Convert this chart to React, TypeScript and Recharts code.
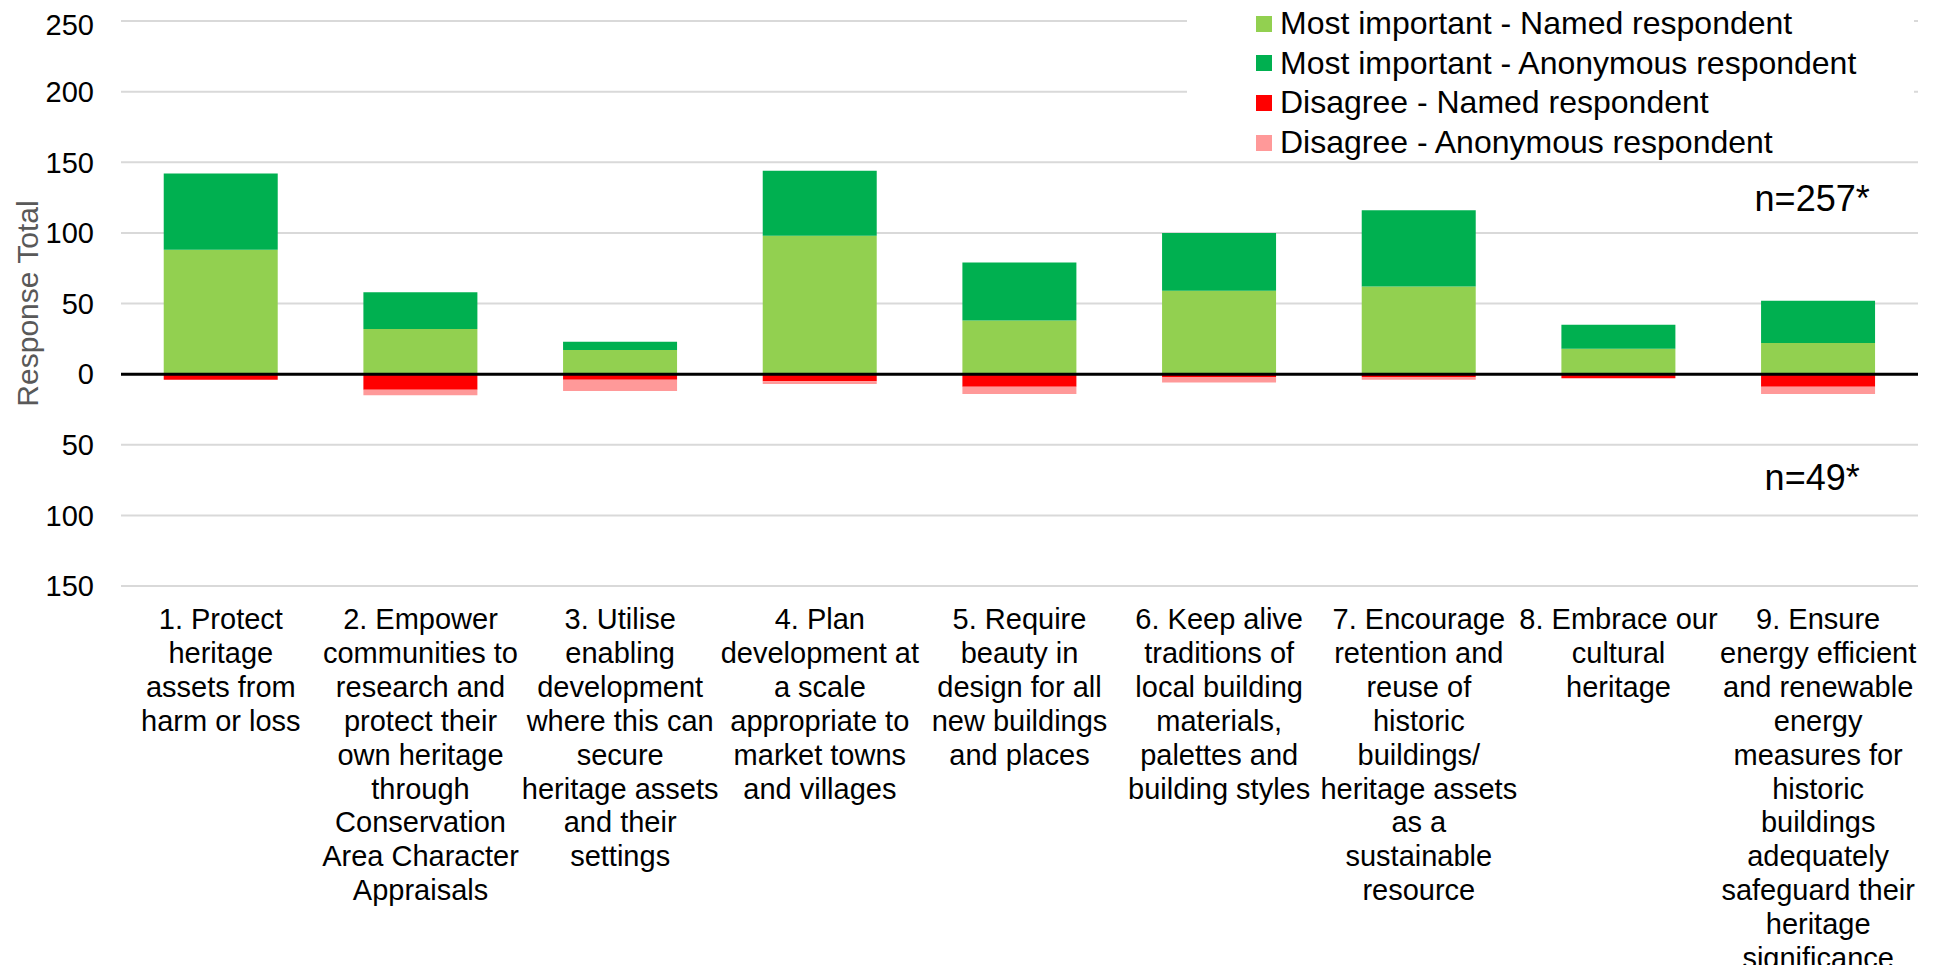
import React from "react";
import {
  BarChart,
  Bar,
  XAxis,
  YAxis,
  CartesianGrid,
  Legend,
  ReferenceLine,
  ReferenceDot,
} from "recharts";

// category labels, already broken into lines like the original
const categories = [
  "1. Protect\nheritage\nassets from\nharm or loss",
  "2. Empower\ncommunities to\nresearch and\nprotect their\nown heritage\nthrough\nConservation\nArea Character\nAppraisals",
  "3. Utilise\nenabling\ndevelopment\nwhere this can\nsecure\nheritage assets\nand their\nsettings",
  "4. Plan\ndevelopment at\na scale\nappropriate to\nmarket towns\nand villages",
  "5. Require\nbeauty in\ndesign for all\nnew buildings\nand places",
  "6. Keep alive\ntraditions of\nlocal building\nmaterials,\npalettes and\nbuilding styles",
  "7. Encourage\nretention and\nreuse of\nhistoric\nbuildings/\nheritage assets\nas a\nsustainable\nresource",
  "8. Embrace our\ncultural\nheritage",
  "9. Ensure\nenergy efficient\nand renewable\nenergy\nmeasures for\nhistoric\nbuildings\nadequately\nsafeguard their\nheritage\nsignificance",
];

const importantNamed = [88, 32, 17, 98, 38, 59, 62, 18, 22];
const importantAnon = [54, 26, 6, 46, 41, 41, 54, 17, 30];
const disagreeNamed = [4, 11, 4, 5, 9, 2, 2, 3, 9];
const disagreeAnon = [0, 4, 8, 2, 5, 4, 2, 0, 5];

const yTicks = [-150, -100, -50, 0, 50, 100, 150, 200, 250];

const FONT = "'Liberation Sans', Arial, sans-serif";

const series = [
  { key: "impNamed", name: "Most important - Named respondent", color: "#92D050" },
  { key: "impAnon", name: "Most important - Anonymous respondent", color: "#00B050" },
  { key: "disNamed", name: "Disagree - Named respondent", color: "#FF0000" },
  { key: "disAnon", name: "Disagree - Anonymous respondent", color: "#FF9999" },
];

const data = categories.map((cat, i) => ({
  cat,
  impNamed: importantNamed[i],
  impAnon: importantAnon[i],
  // disagree counts go below the axis
  disNamed: -disagreeNamed[i],
  disAnon: -disagreeAnon[i],
}));

const CategoryTick = (props: any) => {
  const { x, y, payload } = props;
  const lines = String(payload.value).split("\n");
  return (
    <text x={x} y={y + 35} textAnchor="middle" fill="#000" fontSize={29} fontFamily={FONT}>
      {lines.map((line, i) => (
        <tspan key={i} x={x} dy={i === 0 ? 0 : 33.9}>
          {line}
        </tspan>
      ))}
    </text>
  );
};

const LegendBox = () => (
  <div
    style={{
      background: "#fff",
      width: 727,
      height: 150,
      fontFamily: FONT,
      fontSize: 32,
      color: "#000",
      boxSizing: "border-box",
    }}
  >
    {series.map((s, i) => (
      <div
        key={s.key}
        style={{
          display: "flex",
          alignItems: "center",
          height: 39.6,
          marginTop: i === 0 ? -4 : 0,
        }}
      >
        <span
          style={{
            display: "inline-block",
            width: 16,
            height: 16,
            background: s.color,
            marginLeft: 69,
            marginRight: 8,
          }}
        />
        <span style={{ whiteSpace: "nowrap" }}>{s.name}</span>
      </div>
    ))}
  </div>
);

const YTitle = (props: any) => {
  const vb = props.viewBox || {};
  const cy = (vb.y || 0) + (vb.height || 0) / 2;
  return (
    <text
      x={19}
      y={cy}
      transform={`rotate(-90, 19, ${cy})`}
      textAnchor="middle"
      dominantBaseline="central"
      fill="#595959"
      fontSize={30}
      fontFamily={FONT}
    >
      Response Total
    </text>
  );
};

const Note = (text: string) => (props: any) => {
  const vb = props.viewBox || {};
  return (
    <text
      x={(vb.cx ?? vb.x) - 6}
      y={vb.cy ?? vb.y}
      textAnchor="middle"
      dominantBaseline="central"
      fill="#000"
      fontSize={36}
      fontFamily={FONT}
    >
      {text}
    </text>
  );
};

export default function App() {
  return (
    <div style={{ height: 957 }}>
      <BarChart
        width={1923}
        height={965}
        data={data}
        stackOffset="sign"
        margin={{ top: 13, right: 13, bottom: 0, left: 0 }}
        barCategoryGap="21.4%"
      >
        <CartesianGrid vertical={false} stroke="#d9d9d9" strokeWidth={2} />
        <XAxis
          dataKey="cat"
          height={387}
          axisLine={false}
          tickLine={false}
          interval={0}
          tick={<CategoryTick />}
        />
        <YAxis
          width={113}
          domain={[-150, 250]}
          ticks={yTicks}
          axisLine={false}
          tickLine={false}
          tickSize={0}
          tickMargin={27}
          tickFormatter={(v: number) => String(Math.abs(v))}
          tick={{ fill: "#000", fontSize: 29, fontFamily: FONT }}
          label={<YTitle />}
        />
        {series.map((s) => (
          <Bar
            key={s.key}
            dataKey={s.key}
            name={s.name}
            stackId="a"
            fill={s.color}
            isAnimationActive={false}
          />
        ))}
        <ReferenceLine y={0} stroke="#000" strokeWidth={3} />
        <ReferenceDot
          x={categories[8]}
          y={124}
          r={0}
          stroke="none"
          fill="none"
          label={Note("n=257*")}
        />
        <ReferenceDot
          x={categories[8]}
          y={-73}
          r={0}
          stroke="none"
          fill="none"
          label={Note("n=49*")}
        />
        <Legend
          layout="vertical"
          align="center"
          verticalAlign="middle"
          wrapperStyle={{ position: "absolute", top: 0, left: 1179, width: 727 }}
          content={<LegendBox />}
        />
      </BarChart>
    </div>
  );
}
